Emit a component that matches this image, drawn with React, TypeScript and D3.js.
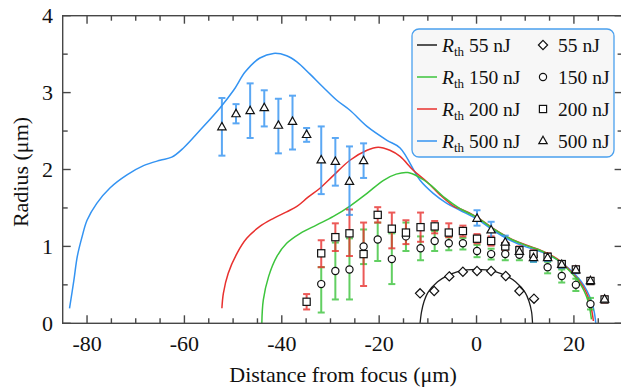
import * as d3 from 'd3';

// threshold radius curves (z in um, r in um)
const curve55: [number, number][] = [
  [-11.6, 0], [-11.3, 0.15], [-10.8, 0.28], [-10, 0.4], [-8, 0.54], [-6, 0.62], [-4, 0.67],
  [-2, 0.695], [0, 0.7], [2, 0.695], [4, 0.67], [6, 0.62], [8, 0.54], [10, 0.4], [10.8, 0.28],
  [11.3, 0.15], [11.5, 0],
];
const curve150: [number, number][] = [
  [-44.1, 0.0], [-43.8, 0.3], [-42.7, 0.61], [-41.0, 0.87], [-39.0, 1.04], [-36.2, 1.17],
  [-32.8, 1.28], [-29.4, 1.39], [-26.0, 1.525], [-22.5, 1.69], [-19.1, 1.86], [-16.5, 1.94],
  [-14.1, 1.96], [-11.8, 1.9], [-9.5, 1.8], [-6.5, 1.63], [-3.4, 1.49], [0, 1.38], [3.4, 1.23],
  [6.9, 1.1], [10.3, 1.01], [13.7, 0.93], [16.5, 0.83], [18.8, 0.7], [20.8, 0.56], [22.1, 0.42],
  [23.0, 0.27], [23.4, 0.14], [23.6, 0.05],
];
const curve200: [number, number][] = [
  [-52.3, 0.195], [-52.0, 0.39], [-51.0, 0.65], [-49.2, 0.91], [-47.2, 1.105], [-44.5, 1.26],
  [-41.7, 1.365], [-39.0, 1.45], [-36.9, 1.52], [-34.6, 1.64], [-32.1, 1.76], [-29.6, 1.91],
  [-26.0, 2.12], [-22.5, 2.25], [-20.2, 2.29], [-17.8, 2.25], [-15.7, 2.17], [-13.0, 1.99],
  [-10.2, 1.84], [-7.5, 1.67], [-4.4, 1.51], [-3.4, 1.49], [0, 1.385], [3.4, 1.235],
  [6.9, 1.105], [10.3, 1.015], [13.7, 0.935], [16.5, 0.84], [19.0, 0.7], [21.0, 0.56],
  [22.4, 0.42], [23.3, 0.27], [23.8, 0.12], [24.0, 0.03],
];
const curve500: [number, number][] = [
  [-83.6, 0.195], [-82.7, 0.56], [-82.0, 0.87], [-81.0, 1.13], [-80.0, 1.34], [-78.0, 1.56],
  [-75.3, 1.76], [-71.8, 1.93], [-68.4, 2.05], [-65.0, 2.12], [-62.6, 2.16], [-60.2, 2.28],
  [-56.8, 2.51], [-52.7, 2.8], [-49.9, 3.03], [-47.5, 3.27], [-44.5, 3.45], [-41.7, 3.51],
  [-39.0, 3.48], [-36.9, 3.4], [-34.2, 3.24], [-31.5, 3.07], [-28.7, 2.9], [-26.0, 2.77],
  [-22.5, 2.56], [-18.4, 2.38], [-15.7, 2.28], [-11.6, 1.86], [-8.9, 1.69], [-6.1, 1.56],
  [-3.4, 1.47], [0, 1.36], [3.4, 1.21], [6.9, 1.08], [10.3, 0.99], [13.7, 0.92], [16.5, 0.83],
  [19.2, 0.7], [21.3, 0.56], [22.7, 0.42], [23.7, 0.27], [24.2, 0.14], [24.5, 0],
];

// measured points
const z55 = [-11.6, -8.7, -5.6, -2.8, 0.1, 3.0, 6.0, 8.8, 11.8];
const r55 = [0.39, 0.42, 0.61, 0.67, 0.68, 0.68, 0.615, 0.42, 0.32];

const z150 = [-31.9, -29.0, -26.1, -23.2, -20.3, -17.4, -14.5, -11.5, -8.6, -5.7, -2.8, 0.1, 3.0, 5.9, 8.8, 11.7, 14.6, 17.5, 20.4, 23.4];
const r150 = [0.51, 0.68, 0.7, 1.0, 1.09, 0.835, 1.13, 0.975, 1.07, 1.04, 1.04, 0.94, 0.9, 0.9, 0.89, 0.87, 0.73, 0.615, 0.5, 0.25];
const lo150 = [0.14, 0.31, 0.31, 0.77, 0.81, 0.51, 0.94, 0.82, 0.94, 0.95, 0.96, 0.86, 0.83, 0.82, 0.82, 0.8, 0.65, 0.53, 0.42, 0.18];
const hi150 = [0.73, 1.05, 1.105, 1.22, 1.31, 1.17, 1.31, 1.13, 1.2, 1.12, 1.11, 1.02, 0.97, 0.97, 0.96, 0.94, 0.8, 0.7, 0.58, 0.33];

const z200 = [-34.9, -31.9, -29.0, -26.1, -23.2, -20.3, -17.4, -14.5, -11.5, -8.6, -5.7, -2.8, 0.1, 3.0, 5.9, 8.8, 11.7, 14.6, 17.5, 20.4, 23.4, 26.3];
const r200 = [0.28, 0.91, 1.12, 1.17, 0.9, 1.41, 1.23, 1.18, 1.25, 1.26, 1.18, 1.2, 1.1, 1.07, 1.0, 0.95, 0.9, 0.865, 0.77, 0.7, 0.55, 0.31];
const lo200 = [0.18, 0.73, 0.94, 0.875, 0.485, 1.31, 0.975, 1.03, 1.06, 1.17, 1.12, 1.13, 1.04, 1.01, 0.95, 0.9, 0.85, 0.82, 0.73, 0.66, 0.51, 0.27];
const hi200 = [0.38, 1.08, 1.3, 1.48, 1.31, 1.51, 1.44, 1.34, 1.44, 1.33, 1.3, 1.27, 1.16, 1.13, 1.05, 1.0, 0.95, 0.91, 0.81, 0.74, 0.59, 0.35];

const z500 = [-52.3, -49.4, -46.5, -43.6, -40.7, -37.8, -34.9, -31.9, -29.0, -26.1, -23.2, 0.1, 3.0, 5.9, 8.8, 11.7, 14.6, 17.5, 20.4, 23.4, 26.3];
const r500 = [2.55, 2.72, 2.76, 2.8, 2.57, 2.62, 2.45, 2.12, 2.1, 1.84, 2.11, 1.36, 1.21, 1.05, 0.93, 0.85, 0.85, 0.76, 0.69, 0.55, 0.31];
const lo500 = [2.18, 2.6, 2.41, 2.56, 2.21, 2.26, 2.36, 1.68, 1.79, 1.41, 1.89, 1.27, 1.1, 0.98, 0.88, 0.8, 0.81, 0.72, 0.65, 0.52, 0.28];
const hi500 = [2.93, 2.85, 3.12, 3.03, 2.92, 2.96, 2.54, 2.56, 2.41, 2.3, 2.34, 1.47, 1.32, 1.14, 0.98, 0.9, 0.89, 0.8, 0.73, 0.58, 0.34];

const energies = ['55', '150', '200', '500'];
const xTicks = [-80, -60, -40, -20, 0, 20];
const yTicks = [0, 1, 2, 3, 4];

const BLACK = '#1e1e1e';
const GREEN = '#3cc43c';
const RED = '#e8302e';
const BLUE = '#3393f2';
const AXIS = '#474747';
const FONT = '"Liberation Serif", "DejaVu Serif", serif';

function Marker({ kind, x, y }: { kind: string; x: number; y: number }) {
  const common = { fill: '#fff', stroke: '#111', strokeWidth: 1.2 };
  if (kind === 'diamond')
    return <path d={`M${x},${y - 4.6}L${x + 4.6},${y}L${x},${y + 4.6}L${x - 4.6},${y}Z`} {...common} />;
  if (kind === 'circle') return <circle cx={x} cy={y} r={3.6} {...common} />;
  if (kind === 'square') return <rect x={x - 3.6} y={y - 3.6} width={7.2} height={7.2} {...common} />;
  return <path d={`M${x},${y - 4.8}L${x + 4.2},${y + 2.6}L${x - 4.2},${y + 2.6}Z`} {...common} />;
}

export default function App() {
  const W = 621;
  const H = 389;
  const x = d3.scaleLinear().domain([-85, 30]).range([62.7, 622.6]);
  const y = d3.scaleLinear().domain([0, 4]).range([323.3, 15.7]);
  const [x0, x1] = x.range();
  const [yb, yt] = y.range();

  const line = d3
    .line<[number, number]>()
    .x((d) => x(d[0]))
    .y((d) => y(d[1]))
    .curve(d3.curveCatmullRom.alpha(0.5));

  const minorX = d3.range(-80, 31, 5);
  const minorY = d3.range(0, 4.01, 0.5);

  const errBars = (zs: number[], lo: number[], hi: number[], color: string) =>
    zs.map((z, i) => {
      const cx = x(z);
      return (
        <g key={i} stroke={color} strokeWidth={2} opacity={0.8}>
          <line x1={cx} x2={cx} y1={y(lo[i])} y2={y(hi[i])} />
          <line x1={cx - 3.5} x2={cx + 3.5} y1={y(lo[i])} y2={y(lo[i])} />
          <line x1={cx - 3.5} x2={cx + 3.5} y1={y(hi[i])} y2={y(hi[i])} />
        </g>
      );
    });

  const markers = (zs: number[], rs: number[], kind: string) =>
    zs.map((z, i) => <Marker key={i} kind={kind} x={x(z)} y={y(rs[i])} />);

  const legendColors = [BLACK, GREEN, RED, BLUE];
  const legendKinds = ['diamond', 'circle', 'square', 'triangle'];

  return (
    <svg width={W} height={H} style={{ position: 'absolute', left: 0, top: 0, background: '#fff' }} fontFamily={FONT}>
      {/* curves */}
      <g fill="none" strokeWidth={1.5}>
        <path d={line(curve500) ?? ''} stroke={BLUE} />
        <path d={line(curve200) ?? ''} stroke={RED} />
        <path d={line(curve150) ?? ''} stroke={GREEN} />
        <path d={line(curve55) ?? ''} stroke={BLACK} strokeWidth={1.3} />
      </g>

      {/* error bars */}
      {errBars(z150, lo150, hi150, GREEN)}
      {errBars(z200, lo200, hi200, RED)}
      {errBars(z500, lo500, hi500, BLUE)}

      {/* markers */}
      {markers(z55, r55, 'diamond')}
      {markers(z150, r150, 'circle')}
      {markers(z200, r200, 'square')}
      {markers(z500, r500, 'triangle')}

      {/* frame and ticks */}
      <g stroke={AXIS} strokeWidth={1.4}>
        <rect x={x0} y={yt} width={x1 - x0} height={yb - yt} fill="none" />
        {minorX.map((v) => {
          const len = v % 20 === 0 ? 8 : 5;
          return (
            <g key={`x${v}`}>
              <line x1={x(v)} x2={x(v)} y1={yb} y2={yb - len} />
              <line x1={x(v)} x2={x(v)} y1={yt} y2={yt + len} />
            </g>
          );
        })}
        {minorY.map((v) => {
          const len = Math.abs(v - Math.round(v)) < 1e-6 ? 8 : 5;
          return (
            <g key={`y${v}`}>
              <line x1={x0} x2={x0 + len} y1={y(v)} y2={y(v)} />
              <line x1={x1} x2={x1 - len} y1={y(v)} y2={y(v)} />
            </g>
          );
        })}
      </g>

      {/* tick labels */}
      <g fontSize={22} fill="#111">
        {xTicks.map((v) => (
          <text key={v} x={x(v)} y={351} textAnchor="middle">
            {v < 0 ? `-${Math.abs(v)}` : v}
          </text>
        ))}
        {yTicks.map((v) => (
          <text key={v} x={53} y={y(v) + 7.5} textAnchor="end">
            {v}
          </text>
        ))}
      </g>

      <text x={343} y={382} fontSize={22} textAnchor="middle" fill="#111">
        Distance from focus (μm)
      </text>
      <text transform={`translate(28,172) rotate(-90)`} fontSize={22} textAnchor="middle" fill="#111">
        Radius (μm)
      </text>

      {/* legend */}
      <g>
        <rect x={412} y={29} width={202} height={128} rx={7} fill="#f7f7f7" stroke="#4aa0ee" strokeWidth={1.3} />
        {energies.map((e, i) => {
          const ry = 45 + i * 32;
          return (
            <g key={e} fontSize={19.5} fill="#111">
              <line x1={417} x2={437} y1={ry} y2={ry} stroke={legendColors[i]} strokeWidth={1.5} />
              <text x={442} y={ry + 7}>
                <tspan fontStyle="italic">R</tspan>
                <tspan fontSize={13} dy={4}>th</tspan>
                <tspan dy={-4}>{` ${e} nJ`}</tspan>
              </text>
              <Marker kind={legendKinds[i]} x={543} y={ry} />
              <text x={558} y={ry + 7}>{`${e} nJ`}</text>
            </g>
          );
        })}
      </g>
    </svg>
  );
}
